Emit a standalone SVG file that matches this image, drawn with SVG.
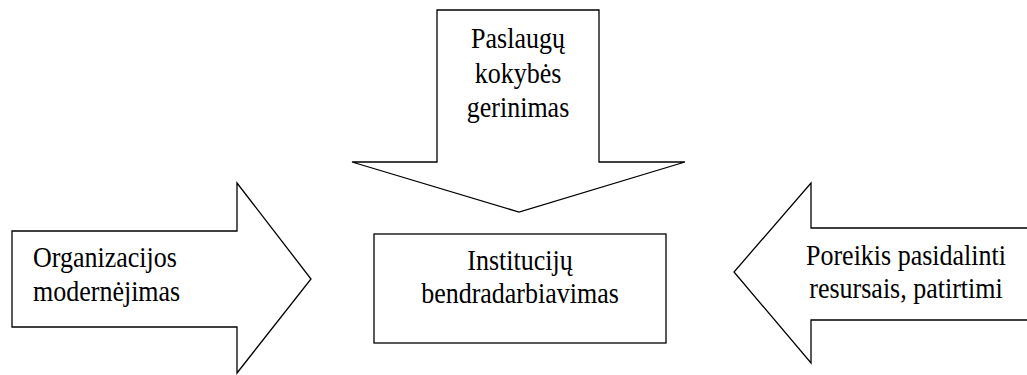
<svg xmlns="http://www.w3.org/2000/svg" width="1027" height="375" viewBox="0 0 1027 375">
<style>
.s{fill:#fff;stroke:#000;stroke-width:1.3;stroke-linejoin:miter}
.t{font-family:'Liberation Serif','Times New Roman',Times,'DejaVu Serif',serif;font-size:26px;fill:#000}
.c{text-anchor:middle}
</style>
<rect width="1027" height="375" fill="#fff"/>
<g id="top-arrow">
<polygon class="s" points="437,10 599,10 599,162 685,162 519,212 352,162 437,162"/>
<text class="t c" transform="translate(518,48) scale(1,1.12)">Paslaugų</text>
<text class="t c" transform="translate(518,83) scale(1,1.12)">kokybės</text>
<text class="t c" transform="translate(518,117) scale(1,1.12)">gerinimas</text>
</g>
<g id="left-arrow">
<polygon class="s" points="12,231 237,231 237,183 311,279 237,373 237,327 12,327"/>
<text class="t" transform="translate(33,267) scale(1,1.12)">Organizacijos</text>
<text class="t" transform="translate(33,301) scale(1,1.12)">modernėjimas</text>
</g>
<g id="right-arrow">
<polygon class="s" points="1030,228 811,228 811,183 734,272 811,363 811,320 1030,320"/>
<text class="t c" transform="translate(906,265) scale(1,1.12)">Poreikis pasidalinti</text>
<text class="t c" transform="translate(906,298) scale(1,1.12)">resursais, patirtimi</text>
</g>
<g id="center">
<rect class="s" x="374" y="234" width="292" height="109"/>
<text class="t c" transform="translate(520,270) scale(1,1.12)">Institucijų</text>
<text class="t c" transform="translate(520,303) scale(1,1.12)">bendradarbiavimas</text>
</g>
<g id="connectors"></g>
</svg>
